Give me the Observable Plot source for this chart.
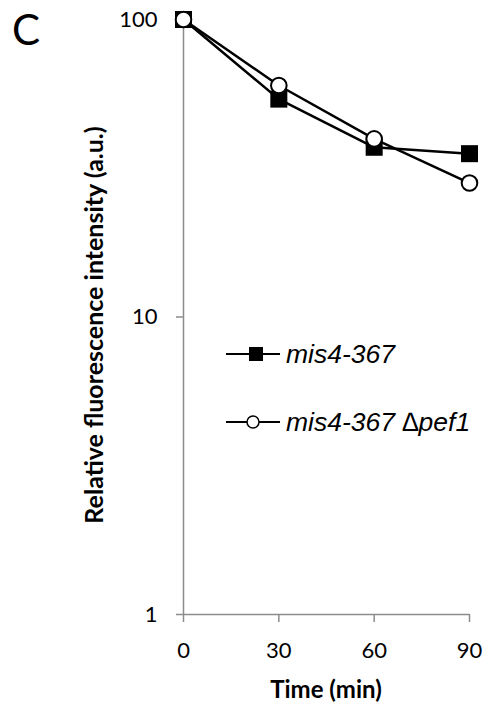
<!DOCTYPE html>
<html>
<head>
<meta charset="utf-8">
<script src="https://cdn.jsdelivr.net/npm/d3@7"></script>
<script src="https://cdn.jsdelivr.net/npm/@observablehq/plot@0.6"></script>
<style>
  html, body { margin: 0; padding: 0; background: white; }
  #wrap { position: relative; width: 492px; height: 705px; overflow: hidden; }
  #panel { position: absolute; left: 12px; top: 8px; font-family: Lato, sans-serif; font-size: 42px; line-height: 1; }
  .leg { position: absolute; display: flex; align-items: center; font-family: "Liberation Sans", Arial, sans-serif; font-style: italic; font-size: 26.5px; line-height: 1; }
  .leg svg { margin-right: 6px; }
</style>
</head>
<body>
<div id="wrap"></div>
<script>
const times = [0, 30, 60, 90];
const mis4 = [100, 54, 37.2, 35.4];
const mis4pef1 = [100, 60, 39.7, 28.2];
const yTicks = [1, 10, 100];
const seriesNames = ["mis4-367", "mis4-367 \u2206pef1"];
const xLabel = "Time (min)";
const yLabel = "Relative fluorescence intensity (a.u.)";

const dataA = times.map((t, i) => ({time: t, value: mis4[i]}));
const dataB = times.map((t, i) => ({time: t, value: mis4pef1[i]}));

const axisGray = "#8c8c8c";

const chart = Plot.plot({
  width: 492,
  height: 705,
  marginLeft: 183,
  marginRight: 23,
  marginTop: 19,
  marginBottom: 91,
  style: {fontFamily: "Lato, sans-serif", fontSize: "22px", color: "black", background: "white", overflow: "visible"},
  x: {domain: [0, 90]},
  y: {type: "log", domain: [1, 100]},
  marks: [
    Plot.ruleX([0], {stroke: axisGray, strokeWidth: 1.5}),
    Plot.ruleY([1], {stroke: axisGray, strokeWidth: 1.5}),
    Plot.axisX({ticks: times, tickSize: 8, tickPadding: 20, stroke: axisGray, strokeWidth: 1.5, fill: "black", label: null, tickFormat: d => String(d)}),
    Plot.axisY({ticks: yTicks, tickSize: 7, tickPadding: 19, stroke: axisGray, strokeWidth: 1.5, fill: "black", label: null, tickFormat: d => String(d)}),
    Plot.line(dataA, {x: "time", y: "value", stroke: "black", strokeWidth: 2.5}),
    Plot.line(dataB, {x: "time", y: "value", stroke: "black", strokeWidth: 2.5}),
    Plot.dot(dataA, {x: "time", y: "value", symbol: "square", r: 9.6, fill: "black"}),
    Plot.dot(dataB, {x: "time", y: "value", symbol: "circle", r: 7.8, fill: "white", stroke: "black", strokeWidth: 2})
  ]
});

const wrap = document.getElementById("wrap");
wrap.appendChild(chart);

// axis titles
const svg = d3.select(chart);
svg.append("text")
  .attr("x", 326).attr("y", 698)
  .attr("text-anchor", "middle")
  .style("font-family", "Lato, sans-serif").style("font-weight", "bold").style("font-size", "24px")
  .text(xLabel);
svg.append("text")
  .attr("transform", "translate(103,325) rotate(-90)")
  .attr("text-anchor", "middle")
  .style("font-family", "Lato, sans-serif").style("font-weight", "bold").style("font-size", "25px")
  .text(yLabel);

// panel letter
const panel = document.createElement("div");
panel.id = "panel";
panel.textContent = "C";
wrap.appendChild(panel);

// legend
function legendItem(name, kind, top) {
  const div = document.createElement("div");
  div.className = "leg";
  div.style.left = "226px";
  div.style.top = top + "px";
  const s = d3.create("svg").attr("width", 54).attr("height", 20);
  s.append("line").attr("x1", 0).attr("x2", 54).attr("y1", 10).attr("y2", 10).attr("stroke", "black").attr("stroke-width", 2);
  if (kind === "square") {
    s.append("rect").attr("x", 23).attr("y", 3).attr("width", 14).attr("height", 14).attr("fill", "black");
  } else {
    s.append("circle").attr("cx", 27).attr("cy", 10).attr("r", 6).attr("fill", "white").attr("stroke", "black").attr("stroke-width", 1.5);
  }
  div.appendChild(s.node());
  const span = document.createElement("span");
  span.textContent = name;
  div.appendChild(span);
  wrap.appendChild(div);
}
legendItem(seriesNames[0], "square", 341);
legendItem(seriesNames[1], "circle", 409);
</script>
</body>
</html>
